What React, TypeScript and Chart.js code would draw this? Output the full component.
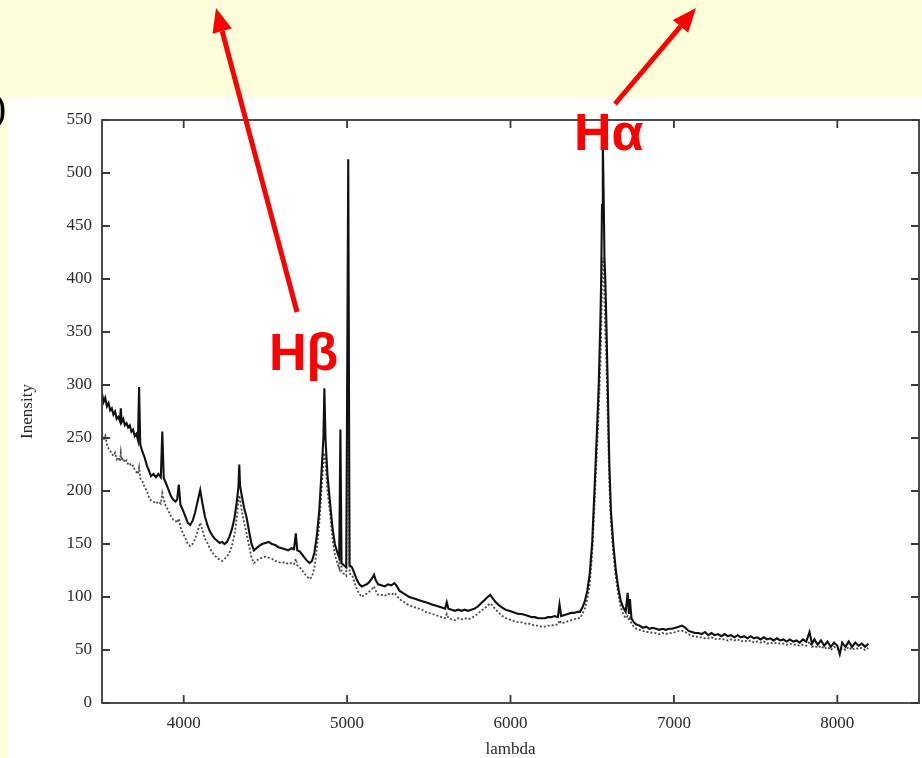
import { useEffect, useRef } from 'react';
import { Chart, registerables } from 'chart.js';

Chart.register(...registerables);

// Wavelength grid (Å), shared by both spectra
const wavelengths = [
  3500, 3510, 3520, 3530, 3540, 3550, 3560, 3570, 3580, 3590,
  3600, 3610, 3615, 3620, 3630, 3640, 3650, 3660, 3670, 3680,
  3690, 3700, 3710, 3720, 3727, 3734, 3745, 3760, 3775, 3790,
  3800, 3815, 3830, 3845, 3860, 3869, 3878, 3890, 3905, 3920,
  3935, 3950, 3960, 3970, 3980, 3995, 4010, 4025, 4040, 4055,
  4070, 4085, 4101, 4115, 4130, 4145, 4160, 4175, 4190, 4205,
  4220, 4235, 4250, 4265, 4280, 4295, 4310, 4325, 4335, 4340,
  4345, 4355, 4370, 4385, 4400, 4415, 4430, 4445, 4460, 4480,
  4500, 4520, 4540, 4560, 4580, 4600, 4620, 4640, 4660, 4675,
  4686, 4695, 4710, 4730, 4750, 4770, 4785, 4800, 4815, 4830,
  4845, 4855, 4861, 4868, 4880, 4895, 4910, 4925, 4940, 4952,
  4959, 4966, 4980, 4995, 5007, 5015, 5030, 5045, 5060, 5075,
  5090, 5105, 5120, 5135, 5150, 5165, 5175, 5190, 5210, 5230,
  5250, 5270, 5290, 5305, 5320, 5340, 5360, 5380, 5400, 5420,
  5440, 5460, 5480, 5500, 5520, 5540, 5560, 5580, 5600, 5610,
  5620, 5640, 5660, 5680, 5700, 5720, 5740, 5760, 5780, 5800,
  5820, 5840, 5860, 5876, 5890, 5910, 5930, 5950, 5970, 5990,
  6010, 6030, 6050, 6070, 6090, 6110, 6130, 6150, 6170, 6190,
  6210, 6230, 6250, 6270, 6290, 6300, 6310, 6330, 6350, 6370,
  6390, 6410, 6425, 6440, 6455, 6470, 6485, 6500, 6515, 6530,
  6540, 6550, 6555, 6560, 6565, 6570, 6575, 6580, 6585, 6595,
  6605, 6615, 6630, 6645, 6660, 6675, 6690, 6705, 6717, 6725,
  6731, 6740, 6755, 6770, 6790, 6810, 6830, 6850, 6870, 6890,
  6910, 6930, 6950, 6970, 6990, 7010, 7030, 7050, 7070, 7090,
  7110, 7130, 7150, 7170, 7190, 7210, 7230, 7250, 7270, 7290,
  7310, 7330, 7350, 7370, 7390, 7410, 7430, 7450, 7470, 7490,
  7510, 7530, 7550, 7570, 7590, 7610, 7630, 7650, 7670, 7690,
  7710, 7730, 7750, 7770, 7790, 7810, 7830, 7845, 7860, 7880,
  7900, 7920, 7940, 7960, 7980, 8000, 8015, 8030, 8050, 8070,
  8090, 8110, 8130, 8150, 8170, 8190,
];

// Upper spectrum (solid line)
const upperIntensity = [
  292, 284, 288, 280, 283, 276, 278, 272, 275, 268,
  270, 266, 278, 265, 268, 262, 264, 260, 262, 256,
  258, 252, 254, 248, 298, 244, 238, 232, 224, 218,
  214, 216, 213, 216, 213, 256, 212, 208, 202, 196,
  192, 190, 192, 206, 187, 182, 176, 170, 168, 172,
  180, 190, 201, 188, 176, 168, 162, 158, 155, 153,
  151, 152, 150, 152, 157, 164, 174, 190, 204, 225,
  205, 196, 184, 175, 162, 150, 144, 146, 148, 150,
  151, 152, 150, 149, 147, 146, 145, 144, 146, 145,
  160, 144, 143, 139, 135, 132, 134, 142, 158, 182,
  222, 250, 297, 248, 215, 190, 166, 150, 142, 137,
  258, 132, 130, 128, 513, 130, 128, 122, 116, 112,
  110, 111, 112, 114, 117, 121, 116, 112, 111, 110,
  112, 111, 113, 110, 106, 104, 102, 100, 99, 98,
  97, 96, 95, 94, 93, 92, 91, 90, 89, 95,
  89, 88, 87, 88, 87, 88, 87, 88, 89, 91,
  94, 97, 100, 102, 99, 95, 92, 90, 88, 87,
  86, 85, 84, 84, 83, 82, 81, 81, 80, 80,
  80, 81, 81, 82, 81, 93, 82, 83, 84, 85,
  85, 86, 86, 90, 96, 106, 122, 152, 205, 260,
  300, 360, 400, 470, 530, 480, 420, 400, 370, 300,
  225, 180, 148, 125, 108, 96, 90, 86, 104, 84,
  98, 80, 76, 74, 73, 71, 72, 70, 71, 70,
  69, 70, 69, 70, 70, 71, 72, 73, 71, 68,
  67, 66, 66, 65, 67, 64, 66, 64, 65, 63,
  65, 63, 64, 62, 64, 62, 63, 61, 63, 61,
  62, 60, 62, 60, 61, 59, 61, 59, 60, 58,
  60, 58, 59, 57, 60, 58, 67, 56, 60, 55,
  59, 54, 58, 53, 57, 54, 46, 57, 53, 58,
  53, 57, 54, 56, 53, 56,
];

// Lower spectrum (dotted line)
const lowerIntensity = [
  255, 248, 252, 244, 240, 238, 235, 233, 236, 230,
  232, 228, 236, 229, 231, 227, 229, 225, 226, 223,
  224, 220, 218, 216, 222, 212, 210, 204, 200, 193,
  191, 190, 188, 190, 188, 198, 192, 186, 182, 177,
  173, 172, 170, 174, 166, 160, 156, 150, 148, 150,
  155, 162, 170, 163, 155, 151, 146, 142, 139, 137,
  135, 134, 136, 138, 142, 148, 158, 175, 190, 196,
  192, 182, 170, 160, 148, 137, 132, 134, 136, 137,
  138, 137, 136, 134, 133, 132, 133, 131, 132, 131,
  136, 130, 128, 124, 120, 117, 119, 128, 145, 170,
  205, 228, 236, 226, 200, 180, 156, 140, 132, 127,
  200, 124, 122, 120, 370, 122, 121, 114, 107, 103,
  100, 102, 103, 105, 107, 110, 106, 102, 102, 101,
  103, 102, 104, 101, 98, 96, 94, 92, 91, 90,
  89, 88, 86, 85, 84, 83, 82, 81, 80, 84,
  80, 79, 78, 80, 79, 80, 79, 80, 82, 84,
  87, 89, 92, 94, 92, 88, 85, 82, 80, 79,
  78, 77, 76, 76, 75, 75, 74, 73, 73, 72,
  72, 73, 73, 74, 74, 78, 75, 76, 77, 78,
  79, 80, 80, 84, 89, 98, 112, 140, 190, 240,
  275, 320, 350, 395, 420, 410, 380, 350, 330, 270,
  205, 170, 140, 118, 102, 90, 84, 80, 82, 78,
  80, 75, 72, 70, 69, 68, 67, 67, 66, 66,
  65, 66, 65, 66, 66, 67, 68, 68, 67, 65,
  63, 63, 62, 62, 61, 61, 62, 60, 61, 60,
  60, 59, 60, 59, 60, 58, 59, 58, 59, 57,
  58, 57, 58, 56, 57, 56, 57, 56, 56, 55,
  56, 55, 55, 54, 55, 54, 58, 53, 54, 52,
  54, 51, 53, 50, 53, 51, 50, 52, 50, 53,
  50, 52, 51, 52, 50, 52,
];

const xTickValues = [4000, 5000, 6000, 7000, 8000];
const yTickValues = [0, 50, 100, 150, 200, 250, 300, 350, 400, 450, 500, 550];
const xRange = [3500, 8500];
const yRange = [0, 550];

const SERIF = "'Liberation Serif', 'Times New Roman', serif";
const SANS = "'Liberation Sans', Arial, sans-serif";
const AXIS_COLOR = '#3a3a3a';
const LABEL_COLOR = '#2a2a2a';

// Box frame plus inward tick marks on all four sides
const frameTicks = {
  id: 'frameTicks',
  afterDraw(chart: any) {
    const { ctx, chartArea: a, scales } = chart;
    const len = 8;
    ctx.save();
    ctx.strokeStyle = AXIS_COLOR;
    ctx.lineWidth = 1.8;
    ctx.strokeRect(a.left, a.top, a.right - a.left, a.bottom - a.top);
    ctx.beginPath();
    scales.x.ticks.forEach((t: any) => {
      const px = scales.x.getPixelForValue(t.value);
      ctx.moveTo(px, a.bottom);
      ctx.lineTo(px, a.bottom - len);
      ctx.moveTo(px, a.top);
      ctx.lineTo(px, a.top + len);
    });
    scales.y.ticks.forEach((t: any) => {
      const py = scales.y.getPixelForValue(t.value);
      ctx.moveTo(a.left, py);
      ctx.lineTo(a.left + len, py);
      ctx.moveTo(a.right, py);
      ctx.lineTo(a.right - len, py);
    });
    ctx.stroke();
    ctx.restore();
  },
};

function arrowHead(tail: number[], tip: number[], length = 24, half = 10) {
  const dx = tip[0] - tail[0];
  const dy = tip[1] - tail[1];
  const d = Math.hypot(dx, dy);
  const ux = dx / d;
  const uy = dy / d;
  const bx = tip[0] - ux * length;
  const by = tip[1] - uy * length;
  const px = -uy;
  const py = ux;
  return {
    base: [bx, by],
    points: `${tip[0]},${tip[1]} ${bx + px * half},${by + py * half} ${bx - px * half},${by - py * half}`,
  };
}

const betaArrow = { tail: [297, 312], tip: [216, 8] };
const alphaArrow = { tail: [615, 104], tip: [696, 8] };

const tickFont = { family: SERIF, size: 17 };

export default function App() {
  const canvasRef = useRef<HTMLCanvasElement | null>(null);

  useEffect(() => {
    const canvas = canvasRef.current;
    if (!canvas) return;
    const chart = new Chart(canvas, {
      type: 'line',
      data: {
        datasets: [
          {
            label: 'upper',
            data: wavelengths.map((w, i) => ({ x: w, y: upperIntensity[i] })),
            borderColor: '#111111',
            borderWidth: 2.1,
            pointRadius: 0,
            tension: 0,
            fill: false,
          },
          {
            label: 'lower',
            data: wavelengths.map((w, i) => ({ x: w, y: lowerIntensity[i] })),
            borderColor: '#4a4a4a',
            borderWidth: 1.8,
            borderDash: [2, 2],
            pointRadius: 0,
            tension: 0,
            fill: false,
          },
        ],
      },
      options: {
        animation: false,
        responsive: false,
        devicePixelRatio: 1,
        layout: { padding: { top: 120, right: 3, left: 0, bottom: 0 } },
        plugins: {
          legend: { display: false },
          tooltip: { enabled: false },
        },
        scales: {
          x: {
            type: 'linear',
            min: xRange[0],
            max: xRange[1],
            afterBuildTicks: (s: any) => {
              s.ticks = xTickValues.map((v) => ({ value: v }));
            },
            afterFit: (s: any) => {
              s.height = 55;
            },
            grid: { display: false, drawTicks: false },
            border: { display: false },
            ticks: {
              padding: 10,
              maxRotation: 0,
              color: LABEL_COLOR,
              font: tickFont,
              callback: (v: any) => String(v),
            },
            title: {
              display: true,
              text: 'lambda',
              color: LABEL_COLOR,
              font: { family: SERIF, size: 17, lineHeight: 1 },
              padding: { top: 0, bottom: 0 },
            },
          },
          y: {
            type: 'linear',
            min: yRange[0],
            max: yRange[1],
            afterBuildTicks: (s: any) => {
              s.ticks = yTickValues.map((v) => ({ value: v }));
            },
            afterFit: (s: any) => {
              s.width = 102;
            },
            grid: { display: false, drawTicks: false },
            border: { display: false },
            ticks: {
              padding: 10,
              color: LABEL_COLOR,
              font: tickFont,
              callback: (v: any) => String(v),
            },
            title: {
              display: true,
              text: 'Inensity',
              color: LABEL_COLOR,
              font: { family: SERIF, size: 17, lineHeight: 1 },
              padding: { top: 19, bottom: 0 },
            },
          },
        },
      },
      plugins: [frameTicks],
    } as any);
    return () => chart.destroy();
  }, []);

  const beta = arrowHead(betaArrow.tail, betaArrow.tip);
  const alpha = arrowHead(alphaArrow.tail, alphaArrow.tip);

  return (
    <div
      style={{
        position: 'fixed',
        left: 0,
        top: 0,
        width: 922,
        height: 758,
        overflow: 'hidden',
        background: '#FFFFDC',
      }}
    >
      <div
        style={{
          position: 'absolute',
          left: 8,
          top: 97,
          width: 914,
          height: 661,
          background: '#FFFFFF',
        }}
      />
      <canvas
        ref={canvasRef}
        width={922}
        height={758}
        style={{ position: 'absolute', left: 0, top: 0, width: 922, height: 758 }}
      />
      <svg width={922} height={758} style={{ position: 'absolute', left: 0, top: 0 }}>
        <text x={-7} y={121} fontFamily={SERIF} fontSize={40} fill="#000000">
          )
        </text>
        <line
          x1={betaArrow.tail[0]}
          y1={betaArrow.tail[1]}
          x2={beta.base[0]}
          y2={beta.base[1]}
          stroke="#FF0000"
          strokeWidth={5}
        />
        <polygon points={beta.points} fill="#FF0000" />
        <line
          x1={alphaArrow.tail[0]}
          y1={alphaArrow.tail[1]}
          x2={alpha.base[0]}
          y2={alpha.base[1]}
          stroke="#FF0000"
          strokeWidth={5}
        />
        <polygon points={alpha.points} fill="#FF0000" />
        <text x={269} y={370} fontFamily={SANS} fontWeight="bold" fontSize={52} fill="#FF0000">
          Hβ
        </text>
        <text x={574} y={150} fontFamily={SANS} fontWeight="bold" fontSize={52} fill="#FF0000">
          Hα
        </text>
      </svg>
    </div>
  );
}
